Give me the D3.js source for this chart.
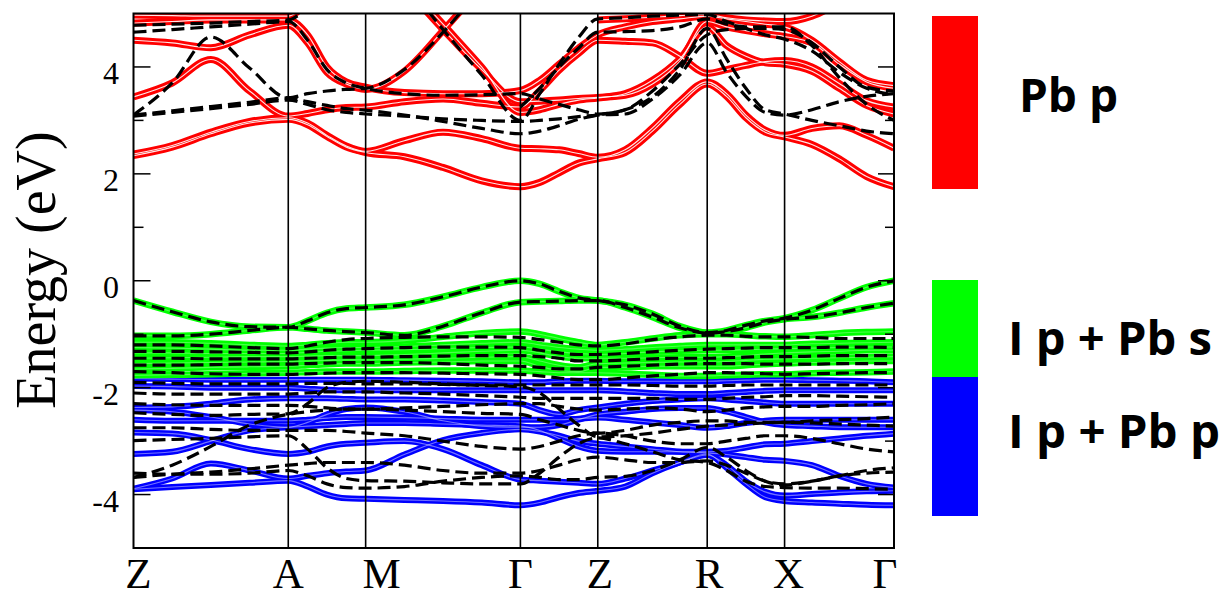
<!DOCTYPE html>
<html>
<head>
<meta charset="utf-8">
<script src="https://cdn.jsdelivr.net/npm/d3@7"></script>
<style>
  body { margin: 0; background: #fff; }
</style>
</head>
<body>
<script>
// High-symmetry path
const kLabels = ["Z", "A", "M", "Γ", "Z", "R", "X", "Γ"];
const kTicks = [0, 1, 1.5, 2.5, 3, 3.707, 4.207, 4.914];
const labelShift = [5, 0, 16, 0, 2, 2, 4, -9];
const yTicks = [4, 2, 0, -2, -4];
const yMinor = [3, 1, -1, -3];

// Band energies (eV), 5 samples per segment: Z..A..M..Γ..Z..R..X..Γ (29 values)
// Pb p (red) conduction bands
const pbP = [
  [2.34,2.5,2.75,2.95,3.02, 2.92,2.7,2.5,2.4, 2.32,2.12,1.87,1.76, 1.84,2.02,2.2,2.28, 2.4,2.8,3.3,3.68, 3.45,3.05,2.78,2.69, 2.55,2.28,1.95,1.76],
  [2.37,2.53,2.78,2.98,3.05, 2.95,2.72,2.52,2.42, 2.62,2.78,2.66,2.48, 2.47,2.45,2.38,2.31, 2.45,2.86,3.36,3.72, 3.5,3.1,2.82,2.72, 2.85,2.9,2.72,2.48],
  [3.44,3.7,4.14,3.55,3.08, 3.13,3.2,3.24,3.25, 3.35,3.4,3.32,3.25, 3.56,3.94,4.25,4.5, 4.48,4.45,4.2,3.88, 3.95,4.03,4.1,4.12, 4.0,3.69,3.37,3.25],
  [4.5,4.45,4.36,4.6,4.78, 4.45,3.9,3.68,3.58, 3.92,4.68,5.5,null, null,null,null,null, null,null,null,null, null,null,null,null, null,null,null,null],
  [4.97,4.96,4.95,4.95,4.95, 5.2,5.5,null,null, 5.5,4.7,3.95,3.35, 3.36,3.38,3.41,3.43, 3.47,3.68,4.1,4.85, 4.75,4.68,4.62,4.57, 4.45,4.05,3.72,3.6],
  [4.82,4.85,4.88,4.88,4.88, 4.6,4.0,3.72,3.62, 3.52,3.5,3.5,3.56, 3.75,4.05,4.35,4.6, 4.75,4.85,4.9,4.95, 4.9,4.85,4.8,4.75, 4.5,4.1,3.75,3.65],
  [null,null,null,null,null, null,null,null,null, 5.6,4.8,4.0,3.15, 3.2,3.3,3.38,3.42, 3.5,3.75,4.15,4.75, 4.4,4.2,4.08,4.05, 3.92,3.6,3.28,3.12],
  [null,null,null,null,null, null,null,null,null, null,null,null,null, null,null,null,4.88, 4.9,4.93,4.96,4.98, 4.92,4.88,4.86,4.85, 4.95,5.2,null,null]
];

// I p + Pb s (green) upper valence bands
const ipPbS = [
  [-0.37,-0.58,-0.77,-0.86,-0.87, -0.75,-0.6,-0.52,-0.5, -0.45,-0.3,-0.12,0, -0.06,-0.2,-0.32,-0.37, -0.45,-0.62,-0.85,-0.97, -0.93,-0.83,-0.75,-0.7, -0.55,-0.33,-0.12,0],
  [-1.03,-1.03,-1.0,-0.93,-0.87, -0.9,-0.93,-0.95,-0.97, -1.02,-0.85,-0.6,-0.4, -0.39,-0.38,-0.37,-0.37, -0.5,-0.68,-0.88,-0.98, -0.95,-0.88,-0.78,-0.72, -0.68,-0.6,-0.5,-0.42],
  [-1.15,-1.15,-1.17,-1.2,-1.22, -1.2,-1.17,-1.15,-1.15, -1.12,-1.05,-0.98,-0.95, -1.0,-1.08,-1.15,-1.2, -1.15,-1.08,-1.02,-1.0, -1.0,-1.02,-1.04,-1.05, -1.02,-0.98,-0.96,-0.95],
  [-1.25,-1.26,-1.28,-1.3,-1.3, -1.28,-1.26,-1.25,-1.25, -1.23,-1.2,-1.17,-1.15, -1.2,-1.25,-1.28,-1.3, -1.28,-1.25,-1.22,-1.2, -1.2,-1.2,-1.2,-1.2, -1.18,-1.17,-1.16,-1.15],
  [-1.35,-1.35,-1.36,-1.36,-1.36, -1.34,-1.32,-1.31,-1.3, -1.29,-1.27,-1.25,-1.24, -1.28,-1.33,-1.36,-1.38, -1.36,-1.33,-1.31,-1.3, -1.3,-1.29,-1.28,-1.27, -1.26,-1.25,-1.24,-1.24],
  [-1.45,-1.44,-1.43,-1.42,-1.42, -1.41,-1.4,-1.4,-1.4, -1.38,-1.35,-1.32,-1.3, -1.35,-1.42,-1.45,-1.45, -1.45,-1.44,-1.43,-1.43, -1.42,-1.4,-1.37,-1.35, -1.33,-1.32,-1.3,-1.3],
  [-1.55,-1.54,-1.53,-1.52,-1.51, -1.5,-1.49,-1.48,-1.48, -1.47,-1.45,-1.43,-1.42, -1.5,-1.58,-1.62,-1.55, -1.54,-1.53,-1.52,-1.52, -1.51,-1.49,-1.47,-1.46, -1.45,-1.44,-1.43,-1.42],
  [-1.65,-1.64,-1.62,-1.61,-1.6, -1.58,-1.56,-1.55,-1.55, -1.53,-1.52,-1.5,-1.5, -1.6,-1.68,-1.7,-1.62, -1.62,-1.6,-1.6,-1.6, -1.6,-1.58,-1.56,-1.55, -1.53,-1.52,-1.5,-1.5],
  [-1.77,-1.76,-1.75,-1.73,-1.72, -1.71,-1.7,-1.7,-1.7, -1.69,-1.68,-1.68,-1.68, -1.7,-1.72,-1.72,-1.72, -1.74,-1.76,-1.78,-1.78, -1.77,-1.76,-1.75,-1.75, -1.73,-1.72,-1.71,-1.7]
];

// I p + Pb p (blue) lower valence bands
const ipPbP = [
  [-1.83,-1.84,-1.85,-1.85,-1.85, -1.85,-1.85,-1.85,-1.85, -1.86,-1.87,-1.88,-1.9, -1.9,-1.88,-1.87,-1.87, -1.88,-1.88,-1.88,-1.88, -1.87,-1.86,-1.85,-1.85, -1.86,-1.87,-1.88,-1.9],
  [-1.97,-1.98,-2.0,-2.0,-2.0, -2.02,-2.04,-2.05,-2.05, -2.05,-2.05,-2.05,-2.05, -2.05,-2.05,-2.05,-2.05, -2.07,-2.1,-2.12,-2.12, -2.1,-2.08,-2.06,-2.05, -2.05,-2.05,-2.05,-2.05],
  [-2.37,-2.36,-2.3,-2.22,-2.2, -2.2,-2.2,-2.21,-2.22, -2.22,-2.24,-2.27,-2.3, -2.42,-2.5,-2.42,-2.37, -2.3,-2.25,-2.22,-2.2, -2.22,-2.25,-2.28,-2.3, -2.3,-2.3,-2.3,-2.3],
  [-2.42,-2.45,-2.55,-2.68,-2.74, -2.65,-2.5,-2.4,-2.37, -2.45,-2.62,-2.72,-2.74, -2.74,-2.7,-2.6,-2.5, -2.45,-2.4,-2.38,-2.38, -2.45,-2.55,-2.65,-2.7, -2.72,-2.74,-2.74,-2.74],
  [-2.6,-2.62,-2.62,-2.62,-2.62, -2.6,-2.57,-2.55,-2.55, -2.56,-2.58,-2.6,-2.6, -2.6,-2.6,-2.58,-2.56, -2.6,-2.65,-2.7,-2.75, -2.72,-2.66,-2.62,-2.6, -2.6,-2.6,-2.6,-2.6],
  [-2.84,-2.86,-2.98,-3.15,-3.24, -3.2,-3.1,-3.05,-3.03, -3.0,-3.15,-3.45,-3.72, -3.74,-3.76,-3.78,-3.8, -3.7,-3.55,-3.4,-3.26, -3.45,-3.75,-3.95,-4.02, -3.99,-3.96,-3.94,-3.93],
  [-3.24,-3.2,-3.0,-2.8,-2.74, -2.72,-2.7,-2.68,-2.66, -2.66,-2.68,-2.7,-2.72, -2.8,-2.95,-3.1,-3.18, -3.2,-3.2,-3.2,-3.2, -3.18,-3.12,-3.06,-3.05, -3.0,-2.95,-2.9,-2.86],
  [-3.89,-3.7,-3.42,-3.55,-3.7, -3.65,-3.6,-3.57,-3.55, -3.25,-2.98,-2.85,-2.78, -2.82,-2.9,-3.0,-3.05, -3.1,-3.15,-3.2,-3.22, -3.25,-3.3,-3.35,-3.37, -3.45,-3.65,-3.8,-3.87],
  [-3.9,-3.86,-3.82,-3.78,-3.74, -3.85,-4.0,-4.07,-4.08, -4.1,-4.12,-4.15,-4.2, -4.15,-4.05,-3.97,-3.93, -3.85,-3.6,-3.4,-3.24, -3.5,-3.8,-4.05,-4.12, -4.15,-4.17,-4.19,-4.2]
];

// Second calculation (black dashed)
const dashedBands = [
  [3.1,3.18,3.26,3.34,3.42, 3.35,3.28,3.22,3.19, 3.1,2.98,2.85,2.75, 2.8,2.9,3.02,3.1, 3.2,3.44,3.95,4.72, 4.15,3.6,3.2,3.12, 3.0,2.9,2.8,2.75],
  [3.1,3.7,4.56,3.98,3.42, 3.5,3.55,3.58,3.6, 3.95,4.65,5.5,null, null,null,null,null, null,null,null,null, null,null,null,null, null,null,null,null],
  [null,null,null,null,null, null,null,null,null, 5.6,4.7,3.85,3.0, 3.5,4.05,4.55,4.9, 4.92,4.95,4.97,4.98, 4.85,4.72,4.6,4.52, 4.3,3.9,3.6,3.48],
  [4.65,4.7,4.75,4.8,4.85, 4.5,3.95,3.7,3.6, 3.5,3.47,3.48,3.5, 3.4,3.3,3.2,3.12, 3.2,3.55,4.05,4.6, 4.7,4.72,4.72,4.7, 4.45,4.0,3.62,3.55],
  [3.08,3.15,3.22,3.3,3.38, 3.3,3.2,3.15,3.12, 3.08,3.03,3.0,2.98, 3.0,3.03,3.07,3.1, 3.12,3.4,3.85,4.45, 3.9,3.45,3.15,3.1, 3.2,3.35,3.45,3.5],
  [4.78,4.8,4.82,4.85,4.88, 5.1,5.4,null,null, null,null,null,3.25, 3.6,4.0,4.35,4.65, 4.66,4.68,4.75,4.9, 4.8,4.75,4.75,4.75, 4.4,3.8,3.3,3.0],
  ipPbS[0],
  ipPbS[1],
  [-1.2,-1.2,-1.22,-1.25,-1.27, -1.22,-1.15,-1.1,-1.08, -1.06,-1.05,-1.05,-1.06, -1.1,-1.15,-1.2,-1.22, -1.18,-1.1,-1.05,-1.02, -1.02,-1.04,-1.05,-1.05, -1.06,-1.08,-1.08,-1.08],
  [-1.32,-1.32,-1.33,-1.34,-1.35, -1.33,-1.3,-1.28,-1.27, -1.25,-1.24,-1.24,-1.25, -1.3,-1.35,-1.38,-1.38, -1.36,-1.33,-1.3,-1.28, -1.27,-1.26,-1.25,-1.25, -1.25,-1.24,-1.24,-1.25],
  [-1.45,-1.45,-1.46,-1.46,-1.46, -1.45,-1.44,-1.43,-1.43, -1.42,-1.41,-1.4,-1.4, -1.42,-1.45,-1.5,-1.5, -1.48,-1.46,-1.45,-1.45, -1.44,-1.43,-1.42,-1.42, -1.41,-1.4,-1.4,-1.4],
  [-1.58,-1.58,-1.57,-1.56,-1.56, -1.55,-1.54,-1.53,-1.53, -1.53,-1.55,-1.58,-1.6, -1.62,-1.65,-1.65,-1.62, -1.6,-1.58,-1.56,-1.55, -1.55,-1.55,-1.56,-1.56, -1.56,-1.55,-1.55,-1.55],
  [-1.7,-1.72,-1.74,-1.75,-1.75, -1.74,-1.73,-1.72,-1.72, -1.72,-1.73,-1.74,-1.75, -1.78,-1.82,-1.85,-1.85, -1.82,-1.78,-1.75,-1.72, -1.72,-1.73,-1.74,-1.75, -1.74,-1.73,-1.72,-1.72],
  [-1.9,-1.92,-1.93,-1.93,-1.93, -1.92,-1.92,-1.92,-1.93, -1.93,-1.94,-1.95,-1.95, -1.95,-1.95,-1.95,-1.95, -1.95,-1.96,-1.97,-1.97, -1.96,-1.95,-1.95,-1.95, -1.95,-1.95,-1.95,-1.95],
  [-2.1,-2.12,-2.12,-2.12,-2.12, -2.1,-2.08,-2.08,-2.08, -2.1,-2.12,-2.15,-2.18, -2.2,-2.2,-2.2,-2.2, -2.2,-2.2,-2.22,-2.22, -2.2,-2.18,-2.17,-2.15, -2.15,-2.16,-2.17,-2.18],
  [-2.3,-2.32,-2.33,-2.33,-2.33, -2.35,-2.38,-2.4,-2.4, -2.38,-2.35,-2.32,-2.3, -2.3,-2.35,-2.4,-2.42, -2.4,-2.38,-2.4,-2.45, -2.42,-2.38,-2.36,-2.35, -2.35,-2.33,-2.32,-2.3],
  [-2.47,-2.5,-2.52,-2.5,-2.49, -2.3,-2.0,-1.9,-1.88, -1.9,-1.93,-1.96,-1.98, -2.1,-2.4,-2.7,-2.92, -2.9,-2.85,-2.78,-2.72, -2.7,-2.68,-2.66,-2.65, -2.66,-2.68,-2.7,-2.72],
  [-2.75,-2.75,-2.78,-2.8,-2.8, -2.8,-2.8,-2.82,-2.85, -2.9,-3.0,-3.1,-3.15, -3.1,-3.0,-2.9,-2.85, -2.9,-3.0,-3.05,-3.05, -3.0,-2.95,-2.9,-2.9, -2.95,-3.05,-3.15,-3.2],
  [-2.99,-2.97,-2.95,-2.92,-2.9, -3.15,-3.5,-3.7,-3.74, -3.75,-3.78,-3.8,-3.8, -3.6,-3.3,-3.05,-2.94, -3.05,-3.2,-3.35,-3.4, -3.55,-3.75,-3.85,-3.87, -3.88,-3.88,-3.89,-3.9],
  [-3.68,-3.45,-3.1,-2.7,-2.5, -2.45,-2.42,-2.4,-2.4, -2.42,-2.45,-2.48,-2.5, -2.6,-2.7,-2.8,-2.85, -2.8,-2.7,-2.65,-2.62, -2.62,-2.65,-2.65,-2.65, -2.62,-2.6,-2.58,-2.55],
  [-3.68,-3.62,-3.58,-3.52,-3.45, -3.42,-3.4,-3.4,-3.4, -3.45,-3.55,-3.6,-3.6, -3.55,-3.45,-3.35,-3.3, -3.35,-3.4,-3.4,-3.37, -3.45,-3.6,-3.75,-3.8, -3.75,-3.65,-3.6,-3.58],
  [-3.6,-3.62,-3.62,-3.6,-3.55, -3.65,-3.8,-3.87,-3.88, -3.85,-3.75,-3.68,-3.65, -3.68,-3.72,-3.72,-3.68, -3.66,-3.55,-3.35,-3.12, -3.3,-3.55,-3.75,-3.82, -3.75,-3.65,-3.55,-3.5]
];

// Legend entries
const legendNames = ["Pb p", "I p + Pb s", "I p + Pb p"];
const legendColors = ["#ff0000", "#00ff00", "#0000ff"];

const width = 1225, height = 598;
const plot = { left: 133.5, right: 894, top: 13.5, bottom: 548 };

const svg = d3.select("body").append("svg")
  .attr("width", width)
  .attr("height", height);

const x = d3.scaleLinear().domain([0, kTicks[kTicks.length - 1]]).range([plot.left, plot.right]);
const y = d3.scaleLinear().domain([-5, 5]).range([plot.bottom, plot.top]);

// sample k positions: each segment split in 4
const kSample = [kTicks[0]];
for (let i = 1; i < kTicks.length; i++) {
  for (let j = 1; j <= 4; j++) kSample.push(kTicks[i - 1] + (kTicks[i] - kTicks[i - 1]) * j / 4);
}

const line = d3.line()
  .defined(d => d != null)
  .x((d, i) => x(kSample[i]))
  .y(d => y(d))
  .curve(d3.curveMonotoneX);

svg.append("defs").append("clipPath").attr("id", "clip")
  .append("rect")
  .attr("x", plot.left).attr("y", plot.top)
  .attr("width", plot.right - plot.left).attr("height", plot.bottom - plot.top);

const g = svg.append("g").attr("clip-path", "url(#clip)");

// Colored bands: thick line with a thin white core (split doublet look)
function drawBands(bands, color, w, coreOpacity) {
  const grp = g.append("g");
  grp.selectAll("path.band")
    .data(bands)
    .join("path")
    .attr("class", "band")
    .attr("d", line)
    .attr("fill", "none")
    .attr("stroke", color)
    .attr("stroke-width", w);
  grp.selectAll("path.core")
    .data(bands)
    .join("path")
    .attr("class", "core")
    .attr("d", line)
    .attr("fill", "none")
    .attr("stroke", "#fff")
    .attr("stroke-opacity", coreOpacity)
    .attr("stroke-width", 1.1);
}

drawBands(ipPbP, legendColors[2], 6, 0.45);
drawBands(ipPbS, legendColors[1], 6.5, 0.3);
drawBands(pbP, legendColors[0], 7, 0.9);

// Dashed black bands on top
g.append("g")
  .selectAll("path")
  .data(dashedBands)
  .join("path")
  .attr("d", line)
  .attr("fill", "none")
  .attr("stroke", "#000")
  .attr("stroke-width", 3.2)
  .attr("stroke-dasharray", "13,6");

// Vertical lines at high-symmetry points
svg.append("g")
  .selectAll("line")
  .data(kTicks.slice(1, -1))
  .join("line")
  .attr("x1", d => x(d)).attr("x2", d => x(d))
  .attr("y1", plot.top).attr("y2", plot.bottom)
  .attr("stroke", "#000")
  .attr("stroke-width", 1.6);

// Frame
svg.append("rect")
  .attr("x", plot.left).attr("y", plot.top)
  .attr("width", plot.right - plot.left).attr("height", plot.bottom - plot.top)
  .attr("fill", "none")
  .attr("stroke", "#000")
  .attr("stroke-width", 2);

// Y ticks, both sides, pointing inward
const ticks = svg.append("g").attr("stroke", "#000").attr("stroke-width", 1.5);
yTicks.forEach(v => {
  ticks.append("line").attr("x1", plot.left).attr("x2", plot.left + 17).attr("y1", y(v)).attr("y2", y(v));
  ticks.append("line").attr("x1", plot.right).attr("x2", plot.right - 16).attr("y1", y(v)).attr("y2", y(v));
});
yMinor.forEach(v => {
  ticks.append("line").attr("x1", plot.left).attr("x2", plot.left + 10).attr("y1", y(v)).attr("y2", y(v));
  ticks.append("line").attr("x1", plot.right).attr("x2", plot.right - 9).attr("y1", y(v)).attr("y2", y(v));
});

const serif = "'Liberation Serif', 'Times New Roman', serif";

// Y tick labels
svg.append("g")
  .selectAll("text")
  .data(yTicks)
  .join("text")
  .attr("x", 119)
  .attr("y", d => y(d) + 17)
  .attr("text-anchor", "end")
  .attr("font-family", serif)
  .attr("font-size", 32)
  .text(d => String(d));

// Y axis title
svg.append("text")
  .attr("transform", "translate(55,270) rotate(-90)")
  .attr("text-anchor", "middle")
  .attr("font-family", serif)
  .attr("font-size", 56)
  .text("Energy (eV)");

// K-point labels
svg.append("g")
  .selectAll("text")
  .data(kLabels)
  .join("text")
  .attr("x", (d, i) => x(kTicks[i]) + labelShift[i])
  .attr("y", 588)
  .attr("text-anchor", "middle")
  .attr("font-family", serif)
  .attr("font-size", 43)
  .text(d => d);

// Legend: color bars and bold labels
const bars = [[16, 189], [280, 377], [377, 516]];
svg.append("g")
  .selectAll("rect")
  .data(bars)
  .join("rect")
  .attr("x", 932)
  .attr("y", d => d[0])
  .attr("width", 46)
  .attr("height", d => d[1] - d[0])
  .attr("fill", (d, i) => legendColors[i]);

const legendPos = [[1019, 112, 99], [1008, 355, 204], [1008, 448, 212]];
svg.append("g")
  .selectAll("text")
  .data(legendNames)
  .join("text")
  .attr("x", (d, i) => legendPos[i][0])
  .attr("y", (d, i) => legendPos[i][1])
  .attr("textLength", (d, i) => legendPos[i][2])
  .attr("lengthAdjust", "spacingAndGlyphs")
  .attr("font-family", "'Open Sans', sans-serif")
  .attr("font-weight", "bold")
  .attr("font-size", 47)
  .text(d => d);
</script>
</body>
</html>
